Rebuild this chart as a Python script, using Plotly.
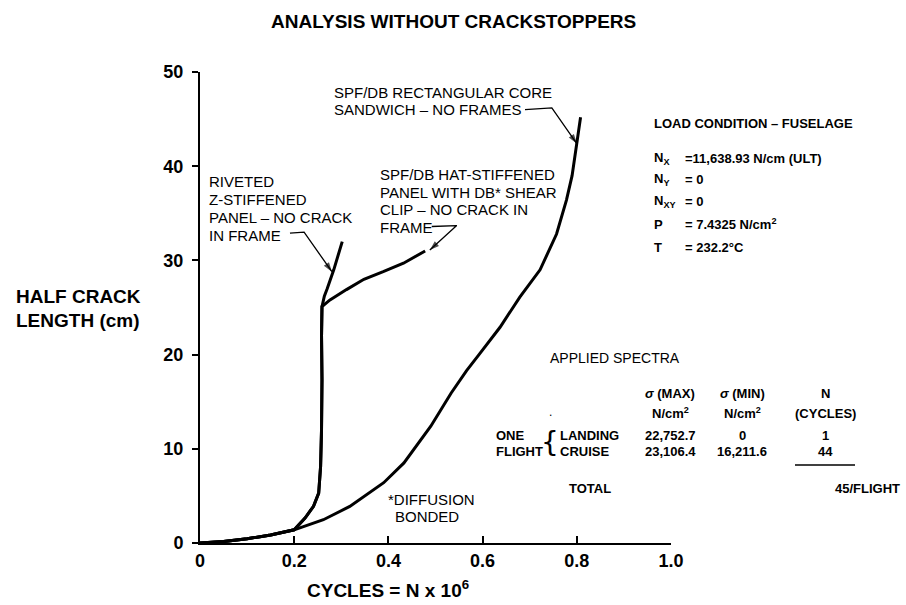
import plotly.graph_objects as go

# ---------------- data ----------------
riveted_x = [0, 0.05, 0.10, 0.15, 0.20, 0.223, 0.241, 0.252, 0.256, 0.258, 0.259, 0.258, 0.259, 0.264, 0.270, 0.284, 0.302]
riveted_y = [0, 0.15, 0.45, 0.85, 1.4, 2.65, 3.9, 5.3, 8.1, 12.0, 17.3, 22.0, 25.1, 26.2, 27.0, 29.0, 32.0]

hat_x = [0, 0.05, 0.10, 0.15, 0.20, 0.223, 0.241, 0.252, 0.256, 0.258, 0.259, 0.258, 0.259, 0.276, 0.311, 0.348, 0.389, 0.432, 0.478]
hat_y = [0, 0.15, 0.45, 0.85, 1.4, 2.65, 3.9, 5.3, 8.1, 12.0, 17.3, 22.0, 25.1, 25.8, 26.9, 28.0, 28.8, 29.7, 31.0]

rect_x = [0, 0.05, 0.10, 0.15, 0.20, 0.262, 0.318, 0.39, 0.433, 0.49, 0.533, 0.566, 0.594, 0.637, 0.679, 0.722, 0.757, 0.778, 0.790, 0.800, 0.808]
rect_y = [0, 0.15, 0.45, 0.85, 1.4, 2.47, 3.88, 6.4, 8.5, 12.4, 15.9, 18.3, 20.1, 22.9, 26.1, 29.0, 32.8, 36.4, 39.0, 42.4, 45.2]

x_ticks = [0, 0.2, 0.4, 0.6, 0.8, 1.0]
x_tick_labels = ["0", "0.2", "0.4", "0.6", "0.8", "1.0"]
y_ticks = [0, 10, 20, 30, 40, 50]
y_tick_labels = ["0", "10", "20", "30", "40", "50"]

load_labels = ["N<sub>X</sub>", "N<sub>Y</sub>", "N<sub>XY</sub>", "P", "T"]
load_values = ["=11,638.93 N/cm (ULT)", "= 0", "= 0", "= 7.4325 N/cm<sup>2</sup>", "= 232.2°C"]

spectra_rows = ["LANDING", "CRUISE"]
sigma_max = ["22,752.7", "23,106.4"]
sigma_min = ["0", "16,211.6"]
cycles = ["1", "44"]
total_cycles = "45/FLIGHT"

# ---------------- figure ----------------
FONT = "Liberation Sans, Arial, sans-serif"

fig = go.Figure()
line_style = dict(color="black", width=3)
for name, xs, ys in [("Riveted Z-stiffened", riveted_x, riveted_y),
                     ("SPF/DB hat-stiffened", hat_x, hat_y),
                     ("SPF/DB rectangular core", rect_x, rect_y)]:
    fig.add_trace(go.Scatter(x=xs, y=ys, mode="lines", name=name, line=line_style,
                             cliponaxis=False, showlegend=False, hoverinfo="skip"))

# leader lines ending in an arrowhead (label -> curve), in data units
leaders = [
    ((0.191, 32.9), (0.221, 33.0), (0.280, 28.8)),
    ((0.492, 33.6), (0.545, 33.7), (0.488, 31.1)),
    ((0.690, 46.0), (0.747, 46.2), (0.800, 42.4)),
]
for a, b, tip in leaders:
    fig.add_trace(go.Scatter(
        x=[a[0], b[0], tip[0]], y=[a[1], b[1], tip[1]], mode="lines+markers",
        line=dict(color="black", width=1.3),
        marker=dict(symbol="arrow", size=[0, 0, 10], angleref="previous", color="black",
                    line=dict(width=0)),
        cliponaxis=False, showlegend=False, hoverinfo="skip"))

L, R, T, B = 200, 235, 72, 62
W, H = 906, 605
PW, PH = W - L - R, H - T - B


def P(px, py):
    return (px - L) / PW, (H - B - py) / PH


anns = []


def txt(px, py, s, size=15, weight="normal", anchor="left", family=FONT):
    x, y = P(px, py)
    anns.append(dict(x=x, y=y, xref="paper", yref="paper", text=s, showarrow=False,
                     xanchor=anchor, yanchor="middle",
                     font=dict(family=family, size=size, color="black", weight=weight)))


# title and axis labels
txt(453, 21, "ANALYSIS WITHOUT CRACKSTOPPERS", size=19, weight="bold", anchor="center")
txt(14, 296, "HALF CRACK", size=19, weight="bold")
txt(14, 320, "LENGTH (cm)", size=19, weight="bold")
txt(388, 589, "CYCLES = N x 10<sup>6</sup>", size=19, weight="bold", anchor="center")

# curve labels
for i, s in enumerate(["RIVETED", "Z-STIFFENED", "PANEL \u2013 NO CRACK", "IN FRAME"]):
    txt(207, 182 + 17.7 * i, s)
for i, s in enumerate(["SPF/DB HAT-STIFFENED", "PANEL WITH DB* SHEAR", "CLIP \u2013 NO CRACK IN", "FRAME"]):
    txt(378, 175 + 17.4 * i, s)
txt(332, 92, "SPF/DB RECTANGULAR CORE")
txt(332, 109, "SANDWICH \u2013 NO FRAMES")
txt(386, 499, "*DIFFUSION")
txt(393, 516, "BONDED")

# load condition block
B13 = dict(size=13, weight="bold")
txt(652, 124, "LOAD CONDITION \u2013 FUSELAGE", **B13)
for i, (lab, val) in enumerate(zip(load_labels, load_values)):
    yy = [158, 180, 201, 224, 247][i]
    txt(652, yy, lab, **B13)
    txt(683, yy, val, **B13)

# applied spectra block
cmax, cmin, cn = 670, 742, 825
txt(548, 358, "APPLIED SPECTRA", size=14)
txt(cmax, 393, "<i>\u03c3</i> (MAX)", anchor="center", **B13)
txt(cmin, 393, "<i>\u03c3</i> (MIN)", anchor="center", **B13)
txt(cn, 393, "N", anchor="center", **B13)
txt(cmax, 413, "N/cm<sup>2</sup>", anchor="center", **B13)
txt(cmin, 413, "N/cm<sup>2</sup>", anchor="center", **B13)
txt(cn, 413, "(CYCLES)", anchor="center", **B13)
txt(547, 412, ".", size=12)
txt(494, 435, "ONE", **B13)
txt(494, 451, "FLIGHT", **B13)
txt(550, 442, "{", size=28, family="DejaVu Sans", anchor="center")
for i in range(2):
    yy = 435 + 16 * i
    txt(558, yy, spectra_rows[i], **B13)
    txt(cmax, yy, sigma_max[i], anchor="center", **B13)
    txt(cmin, yy, sigma_min[i], anchor="center", **B13)
    txt(cn, yy, cycles[i], anchor="center", **B13)
txt(567, 488, "TOTAL", **B13)
txt(902, 488, total_cycles, anchor="right", **B13)

shapes = []
x0, y0 = P(cn - 30, 465)
x1, y1 = P(cn + 30, 465)
shapes.append(dict(type="line", xref="paper", yref="paper", x0=x0, y0=y0, x1=x1, y1=y1,
                   line=dict(color="black", width=1.5)))

axis_font = dict(family=FONT, size=18, color="black", weight="bold")
fig.update_layout(
    width=W, height=H, margin=dict(l=L, r=R, t=T, b=B),
    paper_bgcolor="white", plot_bgcolor="white",
    annotations=anns, shapes=shapes,
    xaxis=dict(range=[0, 1.0], tickvals=x_ticks, ticktext=x_tick_labels, ticks="inside",
               ticklen=7, tickwidth=1.5, tickcolor="black", showline=True, linecolor="black",
               linewidth=2, showgrid=False, zeroline=False, tickfont=axis_font, fixedrange=True),
    yaxis=dict(range=[0, 50], tickvals=y_ticks, ticktext=y_tick_labels, ticks="outside",
               ticklen=6, tickwidth=1.5, tickcolor="black", showline=True, linecolor="black",
               linewidth=2, showgrid=False, zeroline=False, tickfont=axis_font, fixedrange=True,
               ticklabelstandoff=5),
)

fig.write_html("out.html", include_plotlyjs=True, config={"displayModeBar": False},
               post_script="document.body.style.margin='0';document.body.style.overflow='hidden';")
